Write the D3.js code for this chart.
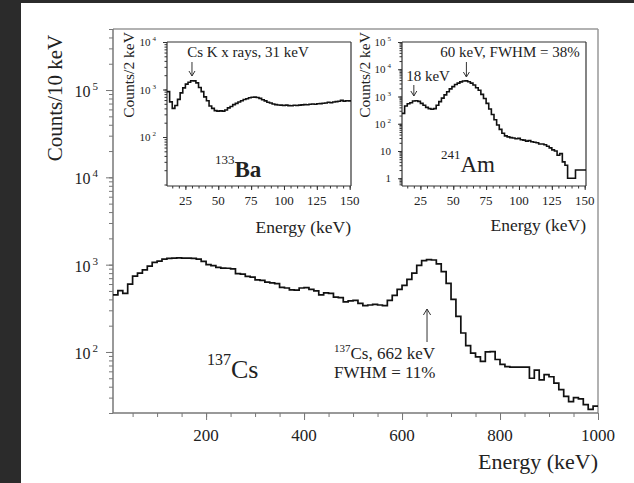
<!DOCTYPE html>
<html>
<head>
<meta charset="utf-8">
<script src="https://cdn.jsdelivr.net/npm/d3@7"></script>
<style>
  body { margin: 0; background: #2b2b2b; }
  svg { display: block; }
  text { font-family: "Liberation Serif", "Times New Roman", serif; fill: #222; }
</style>
</head>
<body>
<div class="chart"></div>
<script>
var W = 634, H = 483;

// 137Cs spectrum, counts per 10 keV bin, bins start at 10 keV
var csStart = 10, csStep = 10;
var csCounts = [450, 505, 470, 600, 740, 800, 870, 960, 1060, 1100,
  1160, 1180, 1190, 1195, 1190, 1185, 1180, 1160, 1090, 1000,
  975, 930, 915, 910, 895, 790, 780, 735, 720, 670,
  660, 630, 620, 605, 550, 540, 515, 510, 540, 545,
  520, 500, 450, 475, 470, 425, 420, 375, 385, 390,
  360, 340, 345, 350, 345, 340, 390, 445, 520, 580,
  680, 800, 980, 1110, 1140, 1130, 1020, 830, 610, 400,
  255, 165, 118, 97, 88, 78, 100, 101, 82, 72,
  68, 67, 67, 67, 67, 50, 62, 48, 55, 52,
  44, 37, 31, 27, 30, 29, 25, 22, 24];

// inset spectra, counts per 2 keV bin, bins start at 11 keV
var insetStart = 11, insetStep = 2;
var baCounts = [900, 550, 400, 460, 620, 850, 1080, 1300, 1420, 1530,
  1520, 1380, 1100, 900, 700, 580, 450, 400, 360, 350,
  355, 350, 370, 410, 440, 480, 510, 545, 580, 615,
  640, 670, 685, 690, 680, 650, 610, 575, 540, 520,
  495, 480, 472, 468, 462, 470, 458, 455, 465, 460,
  470, 475, 480, 478, 488, 495, 490, 500, 505, 512,
  520, 540, 525, 545, 555, 565, 590, 570, 580, 575];
var amCounts = [240, 450, 540, 590, 680, 700, 660, 560, 480, 400,
  360, 340, 360, 480, 650, 870, 1150, 1500, 1900, 2300,
  2750, 3100, 3450, 3700, 3750, 3500, 3100, 2650, 2100, 1700,
  1200, 850, 560, 350, 220, 140, 90, 62, 45, 36,
  33, 31, 30, 28, 29, 26, 25, 23, 24, 22,
  21, 20, 18, 18, 17, 15, 13, 11, 10, 7,
  8, 4, 3, 1, 1, 1, 2, 2, 2, 2];

var mainXTicks = [200, 400, 600, 800, 1000];
var mainYExps = [2, 3, 4, 5];
var insetXTicks = [25, 50, 75, 100, 125, 150];
var baYExps = [2, 3, 4];
var amYExps = [0, 1, 2, 3, 4, 5];

var svg = d3.select('.chart')
  .append('svg')
  .attr('width', W)
  .attr('height', H);

// dark page edge, white figure
svg.append('rect').attr('width', W).attr('height', H).attr('fill', '#2b2b2b');
svg.append('rect').attr('x', 21).attr('y', 3).attr('width', W - 21).attr('height', H - 3).attr('fill', '#fff');

// turn bins into points for a step line
function binPoints(start, step, counts) {
  var pts = counts.map(function (c, i) { return { e: start + i * step, v: c }; });
  pts.push({ e: start + counts.length * step, v: counts[counts.length - 1] });
  return pts;
}

// "10" with a raised exponent
function powLabel(g, exp, x, y, size, supSize, rise) {
  var t = g.append('text')
    .attr('x', x)
    .attr('y', y)
    .attr('text-anchor', 'end')
    .attr('font-size', size);
  if (exp === 0) { t.text('1'); return; }
  if (exp === 1) { t.text('10'); return; }
  t.append('tspan').text('10');
  t.append('tspan')
    .attr('dx', 2)
    .attr('dy', -rise)
    .attr('font-size', supSize)
    .text(exp);
}

function drawPanel(o) {
  var g = svg.append('g');
  var x = d3.scaleLinear().domain(o.xDomain).range([o.left, o.right]);
  var y = d3.scaleLog().domain(o.yDomain).range([o.bottom, o.top]);

  var tidy = function (a) {
    a.select('.domain').remove();
    a.selectAll('line').attr('stroke', o.axisColor);
  };

  // minor and major ticks, outward
  g.append('g')
    .attr('transform', 'translate(0,' + o.bottom + ')')
    .call(d3.axisBottom(x).tickValues(o.xMinor).tickSize(o.minorLen).tickFormat(''))
    .call(tidy);
  g.append('g')
    .attr('transform', 'translate(0,' + o.bottom + ')')
    .call(d3.axisBottom(x).tickValues(o.xTicks).tickSize(o.majorLen).tickFormat(''))
    .call(tidy);
  g.append('g')
    .attr('transform', 'translate(' + o.left + ',0)')
    .call(d3.axisLeft(y).tickValues(y.ticks().filter(function (v) { return v >= o.yDomain[0] && v <= o.yDomain[1]; })).tickSize(o.minorLen).tickFormat(''))
    .call(tidy);
  g.append('g')
    .attr('transform', 'translate(' + o.left + ',0)')
    .call(d3.axisLeft(y).tickValues(o.yExps.map(function (e) { return Math.pow(10, e); })).tickSize(o.majorLen).tickFormat(''))
    .call(tidy);

  // frame
  g.append('line').attr('x1', o.left).attr('x2', o.right).attr('y1', o.top).attr('y2', o.top)
    .attr('stroke', o.frameColor).attr('stroke-width', o.frameWidth);
  g.append('line').attr('x1', o.right).attr('x2', o.right).attr('y1', o.top).attr('y2', o.bottom)
    .attr('stroke', o.frameColor).attr('stroke-width', o.frameWidth);
  g.append('line').attr('x1', o.left).attr('x2', o.right).attr('y1', o.bottom).attr('y2', o.bottom)
    .attr('stroke', o.axisColor).attr('stroke-width', o.frameWidth);
  g.append('line').attr('x1', o.left).attr('x2', o.left).attr('y1', o.top).attr('y2', o.bottom)
    .attr('stroke', o.axisColor).attr('stroke-width', o.frameWidth);

  // tick labels
  g.selectAll('text.xlab')
    .data(o.xTicks)
    .enter()
    .append('text')
    .attr('class', 'xlab')
    .attr('x', function (d) { return x(d); })
    .attr('y', o.bottom + o.xLabDy)
    .attr('text-anchor', 'middle')
    .attr('font-size', o.tickFont)
    .text(function (d) { return d; });
  o.yExps.forEach(function (e) {
    powLabel(g, e, o.yLabX, y(Math.pow(10, e)) + o.yLabDy, o.yTickFont, o.supFont, o.rise);
  });

  // axis titles
  g.append('text')
    .attr('x', o.right)
    .attr('y', o.xTitleY)
    .attr('text-anchor', 'end')
    .attr('font-size', o.xTitleFont)
    .text('Energy (keV)');
  g.append('text')
    .attr('transform', 'translate(' + o.yTitleX + ',' + o.yTitleY + ') rotate(-90)')
    .attr('text-anchor', 'middle')
    .attr('font-size', o.yTitleFont)
    .text(o.yTitle);

  // spectrum
  var line = d3.line()
    .x(function (d) { return x(d.e); })
    .y(function (d) { return y(d.v); })
    .curve(d3.curveStepAfter);
  g.append('path')
    .datum(o.points)
    .attr('d', line)
    .attr('fill', 'none')
    .attr('stroke', '#111')
    .attr('stroke-width', o.lineWidth);

  return { g: g, x: x, y: y };
}

function arrow(g, x, y1, y2, head) {
  // y1 = tail, y2 = tip
  var dir = y2 > y1 ? 1 : -1;
  g.append('line').attr('x1', x).attr('x2', x).attr('y1', y1).attr('y2', y2)
    .attr('stroke', '#333').attr('stroke-width', 1);
  g.append('path')
    .attr('d', 'M' + (x - head * 0.6) + ',' + (y2 - dir * head) + 'L' + x + ',' + y2 + 'L' + (x + head * 0.6) + ',' + (y2 - dir * head))
    .attr('fill', 'none').attr('stroke', '#333').attr('stroke-width', 1);
}

function isotope(g, mass, name, x, y, bigSize, smallSize, rise, weight) {
  var t = g.append('text').attr('x', x).attr('y', y).attr('font-size', smallSize);
  t.append('tspan').attr('dy', -rise).text(mass);
  t.append('tspan').attr('dy', rise).attr('font-size', bigSize)
    .attr('font-weight', weight || 'normal').text(name);
}

// main 137Cs panel
var main = drawPanel({
  left: 113, right: 598, top: 29, bottom: 413,
  xDomain: [csStart, 1000], yDomain: [20, 5e5],
  xTicks: mainXTicks, xMinor: d3.range(50, 1000, 50),
  yExps: mainYExps,
  majorLen: 7, minorLen: 4,
  axisColor: '#777', frameColor: '#999', frameWidth: 1.5,
  tickFont: 17, xLabDy: 28,
  yTickFont: 16, supFont: 11, rise: 7, yLabX: 98, yLabDy: 7,
  xTitleY: 469, xTitleFont: 22,
  yTitle: 'Counts/10 keV', yTitleX: 62, yTitleY: 98, yTitleFont: 21,
  points: binPoints(csStart, csStep, csCounts), lineWidth: 1.7
});
isotope(main.g, '137', 'Cs', 207, 378, 26, 16, 13);
arrow(main.g, main.x(651), 342, 309, 6);
isotope(main.g, '137', 'Cs, 662 keV', 334, 359, 17, 11, 7);
main.g.append('text').attr('x', 334).attr('y', 378).attr('font-size', 17).text('FWHM = 11%');

// 133Ba inset
var ba = drawPanel({
  left: 167, right: 351, top: 42, bottom: 186,
  xDomain: [insetStart, 151], yDomain: [9.3, 1e4],
  xTicks: insetXTicks, xMinor: d3.range(15, 151, 5),
  yExps: baYExps,
  majorLen: 4, minorLen: 2.5,
  axisColor: '#333', frameColor: '#333', frameWidth: 1.2,
  tickFont: 13, xLabDy: 19,
  yTickFont: 11, supFont: 7, rise: 5, yLabX: 156, yLabDy: 4,
  xTitleY: 233, xTitleFont: 17.5,
  yTitle: 'Counts/2 keV', yTitleX: 134, yTitleY: 75, yTitleFont: 15.5,
  points: binPoints(insetStart, insetStep, baCounts), lineWidth: 1.6
});
ba.g.append('text').attr('x', 248).attr('y', 57).attr('text-anchor', 'middle').attr('font-size', 15)
  .text('Cs K x rays, 31 keV');
arrow(ba.g, ba.x(30), 62, 76, 5);
isotope(ba.g, '133', 'Ba', 215, 177, 23, 13, 13, 'bold');

// 241Am inset
var am = drawPanel({
  left: 402, right: 586, top: 42, bottom: 186,
  xDomain: [insetStart, 151], yDomain: [0.52, 1e5],
  xTicks: insetXTicks, xMinor: d3.range(15, 151, 5),
  yExps: amYExps,
  majorLen: 4, minorLen: 2.5,
  axisColor: '#333', frameColor: '#333', frameWidth: 1.2,
  tickFont: 13, xLabDy: 19,
  yTickFont: 11, supFont: 7, rise: 5, yLabX: 391, yLabDy: 4,
  xTitleY: 231, xTitleFont: 17.5,
  yTitle: 'Counts/2 keV', yTitleX: 370, yTitleY: 75, yTitleFont: 15.5,
  points: binPoints(insetStart, insetStep, amCounts), lineWidth: 1.6
});
am.g.append('text').attr('x', 510).attr('y', 57).attr('text-anchor', 'middle').attr('font-size', 15)
  .text('60 keV, FWHM = 38%');
arrow(am.g, am.x(60), 62, 77, 5);
am.g.append('text').attr('x', 428).attr('y', 81).attr('text-anchor', 'middle').attr('font-size', 15)
  .text('18 keV');
arrow(am.g, am.x(20), 85, 96, 5);
isotope(am.g, '241', 'Am', 441, 172, 23, 13, 13);
</script>
</body>
</html>
